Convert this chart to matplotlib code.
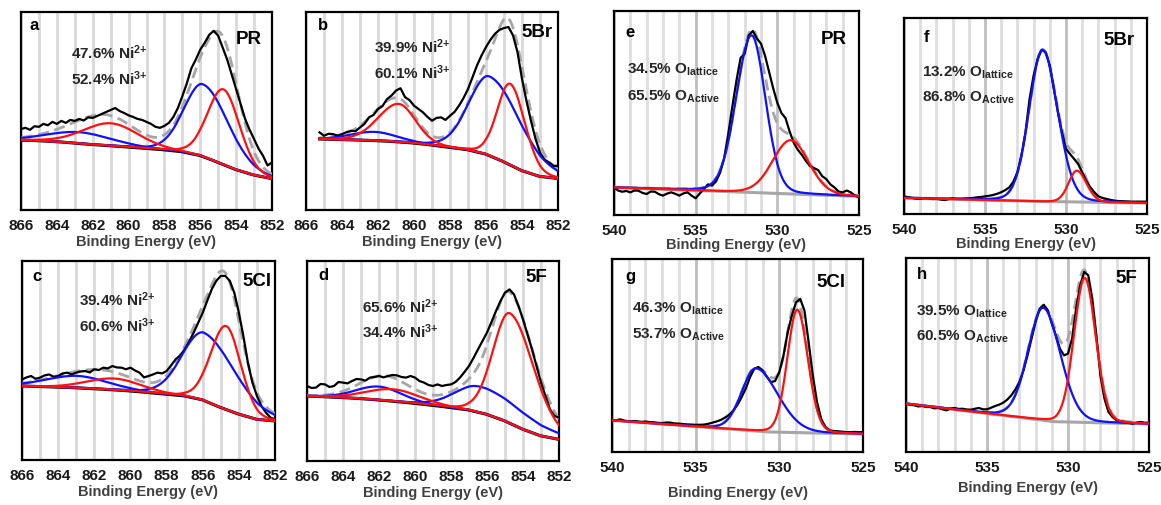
# XPS Ni 2p and O 1s fits, 8 panels
import numpy as np
import matplotlib
matplotlib.use('Agg')
import matplotlib.pyplot as plt

plt.rcParams['font.family'] = ['Liberation Sans', 'DejaVu Sans']
plt.rcParams['font.weight'] = 'bold'
plt.rcParams['mathtext.fontset'] = 'custom'
plt.rcParams['mathtext.rm'] = 'Liberation Sans:bold'
plt.rcParams['mathtext.it'] = 'Liberation Sans:bold'
plt.rcParams['mathtext.bf'] = 'Liberation Sans:bold'

# ---------------- data ----------------
# Ni 2p: measured spectra, 0.25 eV steps from 866 (b from 865.25) down to 852
ni_knots = [866, 865, 864, 863, 862, 861, 860, 859, 858, 857, 856, 855, 854, 853, 852]

a_counts = [40.9, 41.5, 40.5, 42.3, 42.0, 43.5, 42.8, 44.5, 43.5, 45.0, 44.0, 45.5, 45.0, 46.0, 45.2,
            46.8, 46.5, 47.5, 48.5, 49.5, 50.5, 51.5, 50.0, 49.0, 47.8, 47.0, 46.0, 45.5, 44.5, 43.5,
            42.0, 41.5, 42.5, 44.0, 47.0, 51.5, 57.5, 64.0, 71.5, 76.0, 81.0, 84.5, 88.5, 90.5, 88.0,
            82.0, 76.0, 68.5, 61.0, 53.5, 46.0, 40.5, 35.8, 31.0, 27.4, 22.5, 24.0]
a_bg = [35.3, 35.0, 34.5, 33.8, 33.0, 32.4, 31.8, 31.1, 30.4, 29.4, 27.5, 24.0, 20.3, 17.6, 15.8]
a_red = [(854.7, 38.0, 2.1, 2.1), (861.0, 11.4, 3.6, 3.6)]
a_blue = [(855.85, 36.5, 2.5, 3.3), (862.7, 5.7, 4.2, 4.2)]

b_counts = [39.2, 37.5, 38.5, 38.3, 37.6, 38.3, 39.3, 40.0, 39.8, 41.7, 43.5, 46.8, 48.0, 51.0,
            52.5, 56.0, 57.8, 60.3, 61.5, 57.0, 55.5, 52.7, 51.0, 49.3, 47.0, 45.1, 46.5, 46.8,
            45.5, 47.6, 49.5, 52.7, 56.5, 61.1, 67.0, 73.0, 78.0, 82.3, 86.0, 89.0, 91.0, 91.9,
            92.4, 88.2, 79.7, 66.2, 55.0, 45.0, 36.0, 29.0, 25.5, 24.0, 22.3, 22.3]
b_bg = [36.0, 35.8, 35.6, 35.3, 35.0, 34.5, 33.8, 32.8, 31.6, 30.4, 28.2, 24.3, 19.8, 16.9, 15.9]
b_red = [(854.65, 41.0, 1.7, 1.9), (860.85, 19.2, 2.7, 2.2)]
b_blue = [(855.8, 40.0, 2.7, 4.0), (862.2, 4.4, 3.0, 3.0)]

c_counts = [40.5, 41.5, 42.2, 40.8, 41.4, 42.5, 43.0, 41.8, 42.2, 43.5, 43.9, 43.0, 43.9, 44.5, 44.7,
            44.0, 45.6, 45.2, 46.4, 46.0, 47.2, 46.5, 46.4, 45.6, 46.4, 45.0, 43.9, 41.5, 42.2, 43.0,
            43.9, 43.5, 44.7, 47.5, 50.6, 52.5, 55.6, 59.5, 64.0, 69.0, 74.0, 80.0, 85.8, 90.0, 92.5,
            92.5, 90.0, 84.0, 74.0, 62.3, 48.9, 38.9, 32.2, 27.1, 23.8, 21.3, 20.4]
c_bg = [37.2, 36.9, 36.6, 36.3, 35.8, 35.3, 34.7, 33.9, 33.0, 32.2, 30.2, 26.3, 23.0, 20.4, 19.6]
c_red = [(854.7, 42.0, 2.0, 1.9), (860.9, 5.7, 3.5, 3.5)]
c_blue = [(855.95, 34.0, 2.8, 4.1), (862.95, 6.0, 4.0, 4.0)]

d_counts = [37.5, 36.5, 36.7, 38.5, 38.3, 37.0, 37.5, 39.5, 39.2, 38.8, 40.0, 41.0, 40.8, 40.2, 41.7,
            42.0, 42.5, 41.8, 42.5, 43.0, 42.8, 42.0, 41.7, 42.5, 41.7, 40.0, 39.2, 38.0, 37.5, 38.3,
            37.5, 38.0, 38.3, 39.5, 41.7, 44.5, 47.5, 51.5, 55.8, 60.0, 64.2, 69.5, 75.0, 80.0, 84.2,
            85.8, 83.3, 77.5, 70.8, 63.3, 55.8, 47.5, 39.2, 32.5, 25.8, 22.5, 21.7]
d_bg = [32.5, 32.1, 31.7, 31.2, 30.5, 29.7, 28.8, 27.8, 26.7, 25.5, 23.3, 20.0, 15.8, 12.5, 10.8]
d_red = [(854.73, 55.0, 2.2, 3.1), (861.2, 6.0, 3.5, 3.5)]
d_blue = [(856.4, 13.0, 3.2, 6.0), (862.0, 6.7, 3.0, 3.0)]

# O 1s: measured spectra, 0.25 eV steps from 540 down to 525
e_counts = [13.5, 12.0, 11.4, 11.8, 11.1, 12.0, 11.9, 10.8, 10.3, 11.5, 11.4, 10.2, 9.5, 10.5, 11.1,
            10.4, 9.5, 10.6, 11.1, 9.5, 8.2, 10.5, 12.7, 15.0, 14.4, 16.5, 20.9, 28.0, 40.0, 53.5,
            66.0, 77.0, 79.0, 88.0, 90.2, 86.5, 84.0, 78.0, 70.0, 62.0, 55.0, 50.0, 47.5, 41.0, 35.5,
            32.0, 29.5, 26.5, 24.0, 23.0, 22.0, 19.0, 17.6, 15.0, 13.5, 11.5, 11.1, 12.0, 11.1, 9.5, 8.6]
e_bg_e = [540, 531, 525]
e_bg = [13.5, 10.9, 9.1]
e_red = [(529.18, 26.3, 2.6, 2.6)]
e_blue = [(531.58, 77.0, 2.2, 2.0)]

f_counts = [9.0, 8.6, 8.2, 7.8, 7.7, 8.1, 8.0, 7.6, 7.7, 7.4, 7.1, 7.6, 8.0, 7.8, 7.7, 7.9, 8.0,
            8.2, 8.5, 8.7, 9.0, 9.3, 9.7, 10.3, 11.1, 12.2, 13.6, 16.5, 21.3, 29.8, 41.7, 58.7, 70.6,
            79.1, 83.8, 82.5, 75.7, 63.8, 51.9, 41.7, 33.2, 30.6, 28.1, 25.5, 21.3, 17.0, 13.6, 11.1,
            9.0, 8.2, 7.7, 7.2, 6.8, 6.6, 6.5, 6.4, 6.3, 6.3, 6.3, 6.3, 6.3]
f_bg_e = [540, 531, 525]
f_bg = [8.2, 6.3, 5.6]
f_red = [(529.33, 16.0, 1.2, 1.4)]
f_blue = [(531.45, 77.4, 1.95, 2.2)]

g_counts = [16.4, 16.5, 16.9, 16.2, 15.9, 16.0, 15.9, 15.6, 15.8, 15.5, 15.4, 15.1, 15.0, 15.3, 15.2,
            14.8, 14.7, 14.5, 14.3, 14.2, 14.1, 14.1, 14.2, 14.6, 15.2, 15.8, 16.6, 17.8, 19.3, 21.5,
            24.5, 28.5, 33.0, 38.8, 43.1, 44.0, 42.2, 39.0, 36.2, 36.8, 41.4, 50.0, 62.1, 70.7, 77.6,
            79.3, 73.3, 57.0, 39.7, 26.0, 17.2, 12.9, 11.2, 10.9, 10.7, 10.5, 10.3, 10.3, 10.4, 10.3, 10.3]
g_bg_e = [540, 530.5, 525]
g_bg = [16.4, 10.3, 9.3]
g_red = [(528.93, 63.7, 1.4, 1.5)]
g_blue = [(531.4, 32.5, 2.0, 3.1)]

h_counts = [24.9, 24.3, 24.1, 23.5, 23.7, 23.2, 23.2, 22.5, 22.7, 22.0, 21.5, 22.4, 22.7, 22.2, 22.3,
            21.9, 21.8, 22.3, 22.7, 22.0, 22.0, 22.8, 23.7, 24.4, 25.4, 27.0, 29.2, 32.2, 36.1, 42.0,
            49.8, 58.5, 67.0, 73.9, 75.9, 73.0, 66.2, 60.1, 53.3, 49.8, 50.7, 58.4, 73.9, 85.9, 92.8,
            91.1, 79.0, 60.1, 39.5, 27.5, 20.6, 18.0, 16.3, 15.9, 15.5, 15.0, 14.6, 15.2, 15.5, 15.0, 15.1]
h_bg_e = [540, 530.8, 525]
h_bg = [24.9, 15.6, 14.4]
h_red = [(528.97, 74.5, 1.55, 1.6)]
h_blue = [(531.53, 58.0, 2.2, 2.5)]

ni_labels = {'a': ('PR', '47.6%', '52.4%'), 'b': ('5Br', '39.9%', '60.1%'),
             'c': ('5Cl', '39.4%', '60.6%'), 'd': ('5F', '65.6%', '34.4%')}
o_labels = {'e': ('PR', '34.5%', '65.5%'), 'f': ('5Br', '13.2%', '86.8%'),
            'g': ('5Cl', '46.3%', '53.7%'), 'h': ('5F', '39.5%', '60.5%')}

MIX = 0.1  # lorentzian share of the GL line shape


def peak(x, c, h, w_hi, w_lo):
    w = np.where(x >= c, w_hi, w_lo)
    u = (x - c) ** 2 / w ** 2
    return h * ((1 - MIX) * np.exp(-4 * np.log(2) * u) + MIX / (1 + 4 * u))


def make_ax(fig, l, r, t, b):
    W, H = 1161.0, 506.0
    return fig.add_axes([l / W, (H - b) / H, (r - l) / W, (b - t) / H])


def draw(ax, e_start, e_end, counts, knots_e, knots_v, red, blue, ni, labelpad):
    xs = np.linspace(e_start, e_end, len(counts))
    xf = np.linspace(e_end, e_start, 800)
    ke = np.array(knots_e, float)[::-1]
    kv = np.array(knots_v, float)[::-1]
    bg = np.interp(xf, ke, kv)
    env = bg.copy()
    for p in red + blue:
        env += peak(xf, *p)
    # grid
    if ni:
        for v in np.arange(852, 867, 1):
            ax.axvline(v, color='#d9d9d9', lw=2, zorder=0)
    else:
        for v in np.arange(525, 541, 1):
            major = v % 5 == 0
            ax.axvline(v, color='#bfbfbf' if major else '#dedede', lw=2, zorder=0)
    ax.plot(xf, bg, color='black' if ni else '#a6a6a6', lw=2.2, zorder=2)
    ax.plot(xf, env, color='#a6a6a6', lw=2, ls=(0, (4, 2)), zorder=3)
    ax.plot(xs, counts, color='black', lw=1.6, zorder=4)
    for p in blue:
        ax.plot(xf, bg + peak(xf, *p), color='#1010ff', lw=1.6, zorder=5)
    for p in red:
        ax.plot(xf, bg + peak(xf, *p), color='#ff1010', lw=1.6, zorder=6)
    if ni:
        ax.set_xlim(866, 852)
        ax.set_xticks(np.arange(866, 851, -2))
    else:
        ax.set_xlim(540, 525)
        ax.set_xticks([540, 535, 530, 525])
    ax.set_ylim(0, 100)
    ax.set_yticks([])
    ax.tick_params(axis='x', length=0, pad=6, labelsize=11, labelcolor='#1a1a1a')
    for lab in ax.get_xticklabels():
        lab.set_fontweight('bold')
    for s in ax.spines.values():
        s.set_linewidth(1.6)
        s.set_color('black')
    ax.set_xlabel('Binding Energy (eV)', fontsize=10.5, fontweight='bold', color='#404040',
                  labelpad=labelpad)


fig = plt.figure(figsize=(11.61, 5.06), dpi=100)

panels = [
    ('a', (21, 272, 13, 211), 866, a_counts, ni_knots, a_bg, a_red, a_blue, True, 1),
    ('b', (306, 558, 13, 211), 865.25, b_counts, ni_knots, b_bg, b_red, b_blue, True, 1),
    ('c', (22, 275, 262, 461), 866, c_counts, ni_knots, c_bg, c_red, c_blue, True, 1),
    ('d', (307, 559, 262, 462), 866, d_counts, ni_knots, d_bg, d_red, d_blue, True, 1),
    ('e', (614, 859, 12, 216), 540, e_counts, e_bg_e, e_bg, e_red, e_blue, False, 0),
    ('f', (904, 1147, 19, 215), 540, f_counts, f_bg_e, f_bg, f_red, f_blue, False, 0),
    ('g', (612, 863, 260, 453), 540, g_counts, g_bg_e, g_bg, g_red, g_blue, False, 8),
    ('h', (906, 1149, 259, 453), 540, h_counts, h_bg_e, h_bg, h_red, h_blue, False, 4),
]

# text placement (axes fraction): letter xy, name xy, percent x, two percent y
text_pos = {
    'a': ((0.032, 0.935), (0.96, 0.864), 0.20, (0.80, 0.67)),
    'b': ((0.048, 0.935), (0.98, 0.90), 0.27, (0.83, 0.70)),
    'c': ((0.040, 0.925), (0.985, 0.90), 0.225, (0.81, 0.68)),
    'd': ((0.044, 0.935), (0.955, 0.925), 0.22, (0.775, 0.65)),
    'e': ((0.045, 0.90), (0.95, 0.863), 0.053, (0.716, 0.583)),
    'f': ((0.082, 0.908), (0.95, 0.89), 0.075, (0.725, 0.60)),
    'g': ((0.052, 0.917), (0.93, 0.886), 0.08, (0.746, 0.61)),
    'h': ((0.045, 0.92), (0.95, 0.90), 0.04, (0.727, 0.60)),
}

for key, rect, e0, counts, ke, kv, red, blue, ni, lp in panels:
    ax = make_ax(fig, *rect)
    e1 = 852 if ni else 525
    draw(ax, e0, e1, counts, ke, kv, red, blue, ni, lp)
    (lx, ly), (nx, ny), px, (py1, py2) = text_pos[key]
    ax.text(lx, ly, key, transform=ax.transAxes, fontsize=12, fontweight='bold',
            ha='left', va='center', zorder=10)
    if ni:
        name, p1, p2 = ni_labels[key]
        t1 = p1 + ' Ni$^{2{+}}$'
        t2 = p2 + ' Ni$^{3{+}}$'
    else:
        name, p1, p2 = o_labels[key]
        t1 = p1 + r' O$_{\mathrm{lattice}}$'
        t2 = p2 + r' O$_{\mathrm{Active}}$'
    ax.text(nx, ny, name, transform=ax.transAxes, fontsize=13.5, fontweight='bold',
            ha='right', va='center', zorder=10)
    ax.text(px, py1, t1, transform=ax.transAxes, fontsize=11, fontweight='bold',
            ha='left', va='center', color='#262626', zorder=10)
    ax.text(px, py2, t2, transform=ax.transAxes, fontsize=11, fontweight='bold',
            ha='left', va='center', color='#262626', zorder=10)

fig.savefig('out.png', dpi=100)
